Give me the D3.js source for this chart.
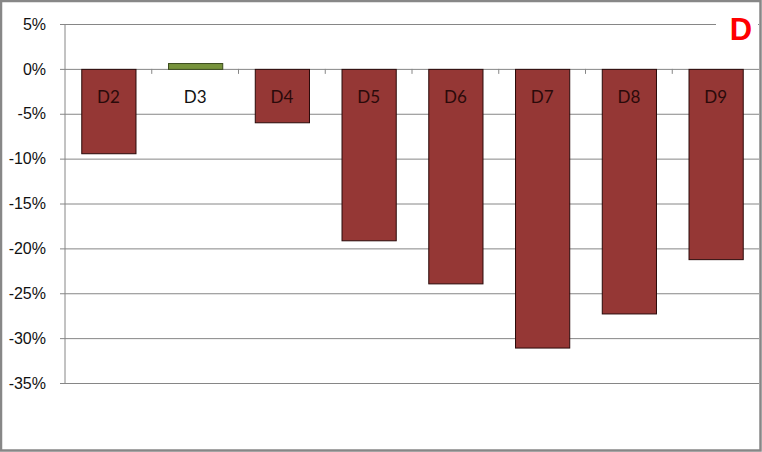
<!DOCTYPE html>
<html>
<head>
<meta charset="utf-8">
<script src="https://cdn.jsdelivr.net/npm/d3@7"></script>
<style>
  body { margin: 0; background: #fff; }
  svg { display: block; font-family: Lato, "Liberation Sans", sans-serif; }
  .axis text { fill: #111; font-size: 16px; }
</style>
</head>
<body>
<svg id="chart"></svg>
<script>
// data
const categories = ['D2', 'D3', 'D4', 'D5', 'D6', 'D7', 'D8', 'D9'];
const changes = [-9.4, 0.65, -5.95, -19.1, -23.9, -31.05, -27.25, -21.2];
const yTicks = [5, 0, -5, -10, -15, -20, -25, -30, -35];
const panelLabel = 'D';

class barChartChange {
    constructor(_config) {
        this.config = {
            parentElement: _config.parentElement,
            containerWidth: _config.containerWidth || 762,
            containerHeight: _config.containerHeight || 452,
            margin: _config.margin || {top: 24, right: 3, bottom: 69, left: 65}
        }
        this.initVis();
    }

    initVis() {
        let vis = this;

        vis.width = vis.config.containerWidth - vis.config.margin.left - vis.config.margin.right;
        vis.height = vis.config.containerHeight - vis.config.margin.top - vis.config.margin.bottom;

        vis.xScale = d3.scaleBand()
            .domain(categories)
            .range([0, vis.width])
            .paddingInner(0.375)
            .paddingOuter(0.1875);

        vis.yScale = d3.scaleLinear()
            .domain([-35, 5])
            .range([vis.height, 0]);

        vis.svg = d3.select(vis.config.parentElement)
            .attr('width', vis.config.containerWidth)
            .attr('height', vis.config.containerHeight);

        vis.chart = vis.svg.append('g')
            .attr('transform', `translate(${vis.config.margin.left},${vis.config.margin.top})`);

        vis.renderVis();
    }

    renderVis() {
        let vis = this;

        // horizontal gridlines + tick labels
        vis.yAxis = d3.axisLeft(vis.yScale)
            .tickValues(yTicks)
            .tickSize(-vis.width - 5)
            .tickPadding(14)
            .tickFormat(d => `${d}%`);

        vis.yAxisG = vis.chart.append('g')
            .attr('class', 'axis y-axis')
            .attr('transform', 'translate(-5,0)')
            .call(vis.yAxis);
        vis.yAxisG.select('.domain').remove();
        vis.yAxisG.selectAll('line').attr('stroke', '#868686');

        // vertical axis line
        vis.chart.append('line')
            .attr('x1', 0).attr('x2', 0)
            .attr('y1', vis.yScale(5)).attr('y2', vis.yScale(-35))
            .attr('stroke', '#868686');

        // category ticks on the 0% line
        vis.chart.append('g')
            .selectAll('line')
            .data(categories.slice(1))
            .join('line')
            .attr('x1', d => vis.xScale(d) - vis.xScale.step() * vis.xScale.paddingInner() / 2)
            .attr('x2', d => vis.xScale(d) - vis.xScale.step() * vis.xScale.paddingInner() / 2)
            .attr('y1', vis.yScale(0))
            .attr('y2', vis.yScale(0) + 5)
            .attr('stroke', '#868686');

        vis.chart.append('g')
            .selectAll('rect')
            .data(categories)
            .join('rect')
            .attr('x', d => vis.xScale(d) + 0.5)
            .attr('width', vis.xScale.bandwidth())
            .attr('y', (d, i) => vis.yScale(Math.max(0, changes[i])) + 0.5)
            .attr('height', (d, i) => Math.abs(vis.yScale(changes[i]) - vis.yScale(0)))
            .attr('fill', (d, i) => changes[i] >= 0 ? '#77933c' : '#953735')
            .attr('stroke', (d, i) => changes[i] >= 0 ? '#3b4a1e' : '#2a0a0a')
            .attr('stroke-width', 1);

        // category labels, just under the zero line
        vis.chart.append('g')
            .selectAll('text')
            .data(categories)
            .join('text')
            .attr('x', d => vis.xScale(d) + vis.xScale.bandwidth() / 2)
            .attr('y', vis.yScale(0) + 34)
            .attr('text-anchor', 'middle')
            .attr('font-size', 17)
            .attr('fill', (d, i) => changes[i] >= 0 ? '#111' : '#2a0a0a')
            .text(d => d);

        // panel letter over a white box
        vis.svg.append('rect')
            .attr('x', 716).attr('y', 8)
            .attr('width', 42).attr('height', 40)
            .attr('fill', '#fff');
        vis.svg.append('text')
            .attr('x', 741).attr('y', 40)
            .attr('text-anchor', 'middle')
            .attr('font-family', 'Liberation Sans, Arial, sans-serif')
            .attr('font-weight', 'bold')
            .attr('font-size', 31)
            .attr('fill', '#ff0000')
            .text(panelLabel);

        // outer frame
        vis.svg.append('rect')
            .attr('x', 1).attr('y', 1)
            .attr('width', vis.config.containerWidth - 2.5)
            .attr('height', vis.config.containerHeight - 2.5)
            .attr('fill', 'none')
            .attr('stroke', '#878787')
            .attr('stroke-width', 2.5);
    }
}

new barChartChange({parentElement: '#chart'});
</script>
</body>
</html>
